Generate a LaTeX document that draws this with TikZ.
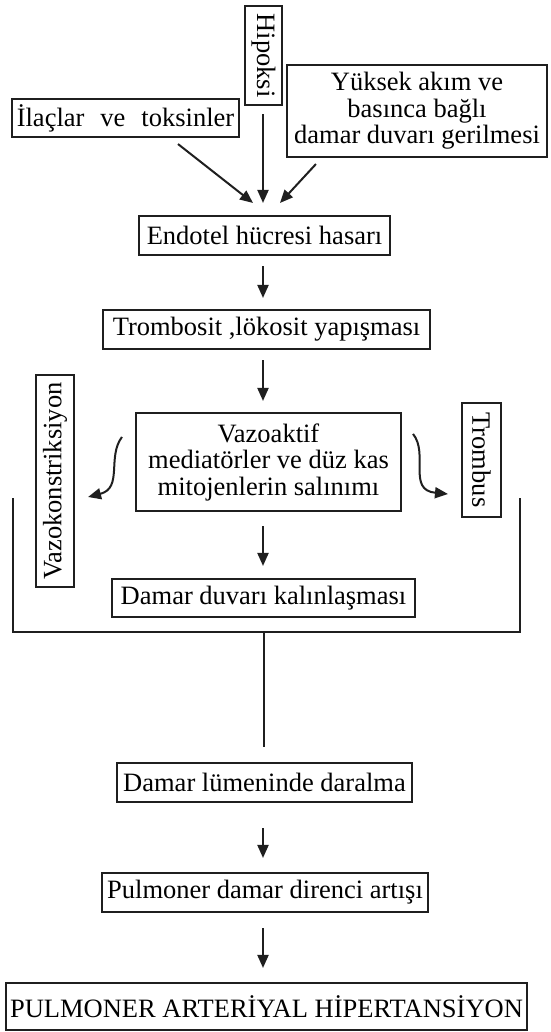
\documentclass[tikz,border=0pt]{standalone}
\usepackage{fontspec}
\setmainfont{Liberation Serif}
\usetikzlibrary{arrows.meta,calc}
\begin{document}
\begin{tikzpicture}[x=1pt,y=-1pt,
  box/.style={draw=black!88, line width=2.1pt, inner sep=0pt, align=center,
    font=\fontsize{26.5}{26.5}\selectfont},
  arr/.style={line width=2pt, draw=black!88, -{Triangle[length=13pt,width=11pt]}},
  ln/.style={line width=2pt, draw=black!88}]
\useasboundingbox (0,0) rectangle (550,1032);

\node[box, minimum width=37pt, minimum height=99pt] (hip) at (263.5,55.5) {\rotatebox{-90}{Hipoksi}};
\node[box, minimum width=227pt, minimum height=38pt] (ilac) at (125.5,118) {İlaçlar\hspace{16pt}ve\hspace{16pt}toksinler};
\node[box, minimum width=260pt, minimum height=92pt] (yuk) at (417,111) {Yüksek akım ve\\basınca bağlı\\damar duvarı gerilmesi};
\node[box, minimum width=251pt, minimum height=39pt] (endo) at (264.5,235.5) {Endotel hücresi hasarı};
\node[box, minimum width=327pt, minimum height=39pt] (trom) at (266.5,329.5) {Trombosit ,lökosit yapışması};
\node[box, minimum width=265pt, minimum height=98pt] (vazo) at (268.5,462) {Vazoaktif\\mediatörler ve düz kas\\mitojenlerin salınımı};
\node[box, minimum width=38pt, minimum height=212pt] (vk) at (55,481) {\rotatebox{90}{Vazokonstriksiyon}};
\node[box, minimum width=39pt, minimum height=114pt] (trb) at (481.5,460) {\rotatebox{-90}{Trombus}};
\node[box, minimum width=303pt, minimum height=38pt] (duvar) at (263.5,598) {Damar duvarı kalınlaşması};
\node[box, minimum width=295pt, minimum height=39pt] (lumen) at (264.5,782.5) {Damar lümeninde daralma};
\node[box, minimum width=326pt, minimum height=39pt] (pulm) at (265,892.5) {Pulmoner damar direnci artışı};
\node[box, minimum width=521pt, minimum height=47pt] (pah) at (266.5,1006.5) {PULMONER ARTERİYAL HİPERTANSİYON};

\draw[arr] ($(ilac.south)+(52.5,6)$) -- ($(endo.north)+(-11.5,-12)$);
\draw[arr] ($(hip.south)+(-0.5,8)$) -- ($(endo.north)+(-1.5,-12)$);
\draw[arr] ($(yuk.south west)+(30,6)$) -- ($(endo.north)+(15.5,-12)$);
\draw[arr] ($(endo.south)+(-1.5,10)$) -- ($(trom.north)+(-3.5,-11)$);
\draw[arr] ($(trom.south)+(-3.5,10)$) -- ($(vazo.north)+(-5.5,-11)$);
\draw[arr] ($(vazo.south)+(-5.5,14)$) -- ($(duvar.north)+(-0.5,-12)$);

\draw[arr] ($(vazo.north west)+(-13,25)$) .. controls +(-15,20) and +(35,-9) .. ($(vk.east)+(13,16)$);
\draw[arr] ($(vazo.north east)+(11,22)$) .. controls +(16,20) and +(-41,-4) .. ($(trb.west)+(-13,34)$);

\coordinate (bl) at (13,498);
\coordinate (bbl) at (13,632);
\coordinate (bbr) at (520,632);
\coordinate (br) at (520,498);
\coordinate (bm) at (264,632);
\draw[ln] (bl) -- (bbl) -- (bbr) -- (br);
\draw[ln] (bm) -- ($(lumen.north)+(-0.5,-15)$);

\draw[arr] ($(lumen.south)+(-1.5,25)$) -- ($(pulm.north)+(-2,-14)$);
\draw[arr] ($(pulm.south)+(-2,15)$) -- ($(pah.north)+(-3.5,-14)$);
\end{tikzpicture}
\end{document}
